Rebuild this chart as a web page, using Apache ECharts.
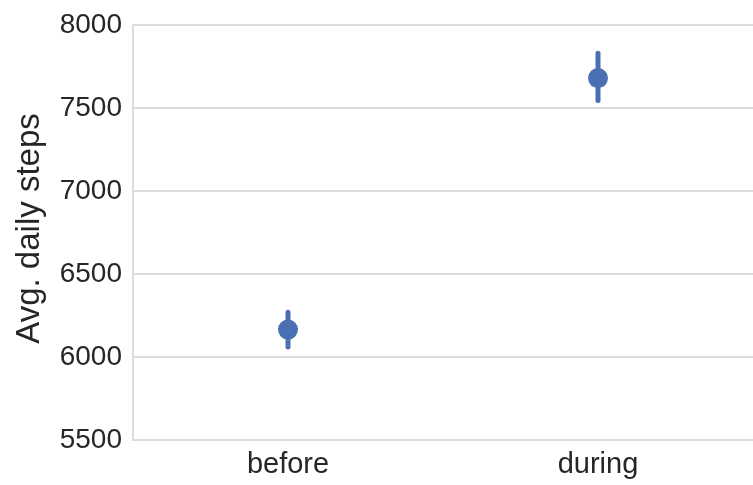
<!DOCTYPE html>
<html><head><meta charset="utf-8">
<script src="https://cdn.jsdelivr.net/npm/echarts@6/dist/echarts.min.js"></script>
<style>html,body{margin:0;padding:0;background:#fff}#c{width:753px;height:485px}</style>
</head><body><div id="c"></div>
<script>
const categories = ['before', 'during'];
const means = [6165, 7680];
const lower = [6060, 7545];
const upper = [6270, 7830];
const yTicks = [5500, 6000, 6500, 7000, 7500, 8000];
const yName = 'Avg. daily steps';

const color = '#4a6fb3';
const font = 'Liberation Sans, Arial, Helvetica, sans-serif';
const chart = echarts.init(document.getElementById('c'));
chart.setOption({
  animation: false,
  grid: { left: 133, top: 25, width: 628, height: 415, containLabel: false },
  xAxis: {
    type: 'category', data: categories,
    axisLine: { lineStyle: { color: '#dcdcdc', width: 2 } },
    axisTick: { show: false },
    axisLabel: { color: '#262626', fontSize: 29, fontFamily: font, margin: 10 },
    splitLine: { show: false }
  },
  yAxis: {
    type: 'value', min: yTicks[0], max: yTicks[yTicks.length - 1], interval: 500,
    name: yName, nameLocation: 'middle', nameGap: 87,
    nameTextStyle: { color: '#262626', fontSize: 33, fontFamily: font, padding: [0, 0, 0, 8] },
    axisLine: { show: true, lineStyle: { color: '#dcdcdc', width: 2 } },
    axisTick: { show: false },
    axisLabel: { color: '#262626', fontSize: 28, fontFamily: font, margin: 11,
      formatter: function (v) { return String(v); } },
    splitLine: { lineStyle: { color: '#dcdcdc', width: 2 } }
  },
  series: [
    {
      type: 'custom',
      data: categories.map((c, i) => [i, lower[i], upper[i]]),
      renderItem: function (params, api) {
        const p1 = api.coord([api.value(0), api.value(1)]);
        const p2 = api.coord([api.value(0), api.value(2)]);
        return {
          type: 'line',
          shape: { x1: p1[0], y1: p1[1], x2: p2[0], y2: p2[1] },
          style: { stroke: color, lineWidth: 5, lineCap: 'round' }
        };
      },
      z: 2
    },
    {
      type: 'scatter',
      data: means.map((v, i) => [i, v]),
      symbol: 'circle', symbolSize: 20,
      itemStyle: { color: color, opacity: 1 },
      z: 3
    }
  ]
});
</script></body></html>
